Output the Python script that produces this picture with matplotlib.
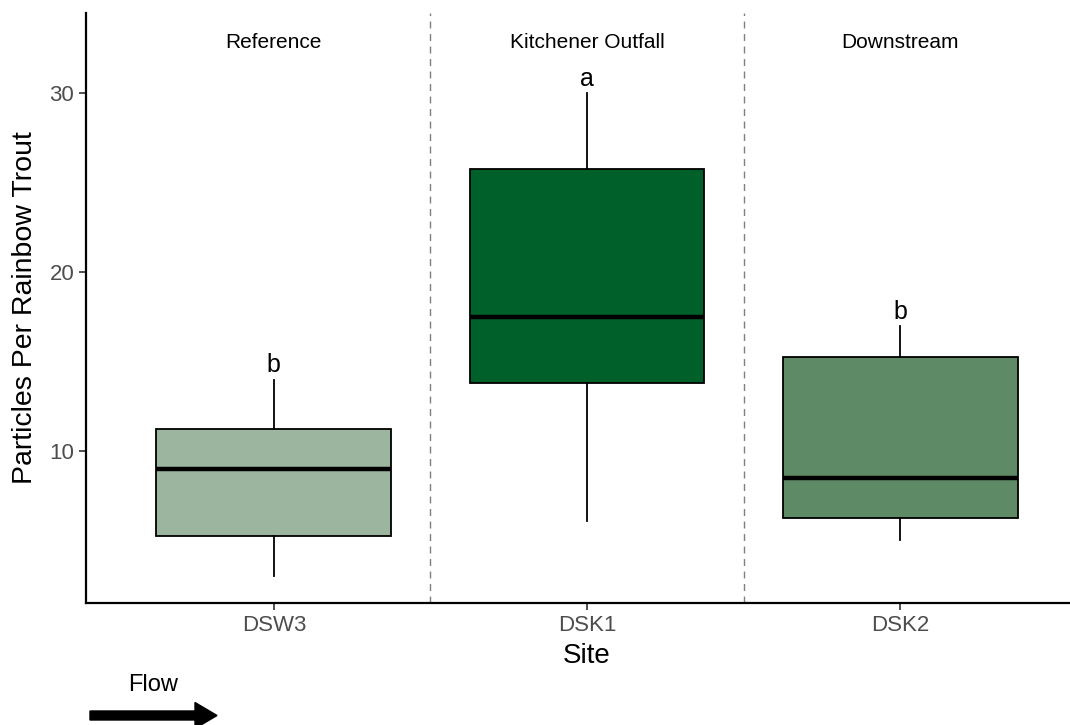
import matplotlib
matplotlib.use("Agg")
import matplotlib.pyplot as plt
from matplotlib.patches import FancyArrow

plt.rcParams['font.family'] = ['Liberation Sans', 'DejaVu Sans']

# five-number summaries per site (particles per rainbow trout)
sites = ["DSW3", "DSK1", "DSK2"]
zones = ["Reference", "Kitchener Outfall", "Downstream"]
whisker_low = [3.0, 6.1, 5.0]
q1 = [5.25, 13.8, 6.25]
median = [9.0, 17.5, 8.5]
q3 = [11.25, 25.75, 15.25]
whisker_high = [14.0, 30.0, 17.0]
letters = ["b", "a", "b"]
letter_y = [14.4, 30.4, 17.4]
fills = ["#9bb59f", "#00602a", "#5e8a66"]

fig = plt.figure(figsize=(10.7, 7.25), dpi=100)
ax = fig.add_axes([86 / 1070, 122 / 725, 1002 / 1070, 590 / 725])

stats = []
for i, s in enumerate(sites):
    stats.append({"label": s, "whislo": whisker_low[i], "q1": q1[i], "med": median[i],
                  "q3": q3[i], "whishi": whisker_high[i], "fliers": []})

pos = list(range(1, len(sites) + 1))
bp = ax.bxp(stats, positions=pos, widths=0.75, patch_artist=True, showcaps=False,
            boxprops=dict(edgecolor="black", linewidth=1.3),
            medianprops=dict(color="black", linewidth=3.2),
            whiskerprops=dict(color="black", linewidth=1.3))
for patch, c in zip(bp["boxes"], fills):
    patch.set_facecolor(c)

# significance letters just above the upper whiskers
for i, l in enumerate(letters):
    ax.text(pos[i], letter_y[i], l, ha="center", va="baseline", fontsize=18)

# zone separators and names
for x in [1.5, 2.5]:
    ax.axvline(x, color="#7f7f7f", linestyle=(0, (5, 4)), linewidth=1)
for i, z in enumerate(zones):
    ax.text(pos[i], 32.85, z, ha="center", va="center", fontsize=15)

ax.set_xlim(0.4, 3.6)
ax.set_ylim(1.5, 34.5)
ax.set_yticks([10, 20, 30])
ax.set_xticks(pos)
ax.set_xticklabels(sites)
ax.tick_params(labelsize=16, labelcolor="#4d4d4d", color="#333333", length=5, width=1.2)
for side in ["top", "right"]:
    ax.spines[side].set_visible(False)
for side in ["left", "bottom"]:
    ax.spines[side].set_linewidth(1.6)

ax.set_xlabel("Site", fontsize=20, labelpad=5)
ax.set_ylabel("Particles Per Rainbow Trout", fontsize=20.5, labelpad=8)

# flow direction arrow under the axis
fig.text(153 / 1070, 1 - 685 / 725, "Flow", ha="center", va="center", fontsize=17)
arrow = FancyArrow(0.90, 0.095, 1.27, 0, width=0.09, head_width=0.26, head_length=0.22,
                   length_includes_head=True, color="black", transform=fig.dpi_scale_trans)
fig.patches.append(arrow)

fig.savefig("out.png", dpi=100)
